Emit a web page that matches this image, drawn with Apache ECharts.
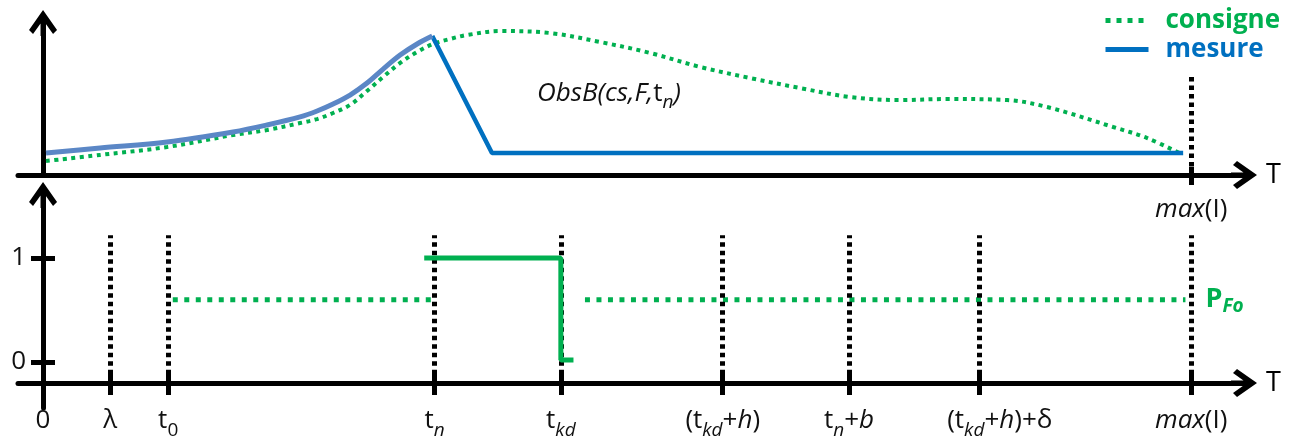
<!DOCTYPE html>
<html><head><meta charset="utf-8">
<script src="https://cdn.jsdelivr.net/npm/echarts@6/dist/echarts.min.js"></script>
<style>html,body{margin:0;padding:0;background:#fff}#c{width:1293px;height:441px}</style>
</head><body><div id="c"></div>
<script>
const FONT = 'Open Sans';
// x scale: 0 = origin, 100 = max(I)
const xMin = -2.18, xMax = 104.6;
const tickPos = [0, 5.84, 10.9, 34.1, 45.1, 59.2, 70.2, 81.5, 100];
const tickLabels = ['{z|0}', '{m|λ}', '{m|t}{s|0}', '{m|t}{si|n}', '{m|t}{si|kd}',
  '{m|(t}{si|kd}{m|+}{i|h}{m|)}', '{m|t}{si|n}{m|+}{i|b}', '{g| }{m|(t}{si|kd}{m|+}{i|h}{m|)+δ}', '{i|max}{m|(I)}'];
const topTickPos = [100];
const topTickLabels = ['{i|max}{m|(I)}'];
const yTicks = [0, 1];
const yTickLabels = ['0', '1'];

// top panel (y 0..100)
const consigne = [[0.26,9.2],[4.97,13.2],[10.8,18.4],[16.55,26.3],[19.51,29.6],[22.39,34.2],[23.87,36.8],[25.26,40.8],[26.74,46.1],[28.22,55.3],[29.62,64.5],[31.1,73.7],[32.58,80.9],[33.97,86.2],[35.45,89.5],[36.93,92.1],[39.8,94.7],[44.16,93.4],[48.52,87.5],[52.87,80.3],[57.23,71.1],[61.59,63.8],[65.94,57.2],[70.3,51.3],[74.65,49.3],[78.75,50.0],[83.97,49.3],[87.46,44.7],[93.2,31.6],[96.17,24.3],[99.3,13.2]];
const mesureCurve = [[0.26,14.5],[4.97,17.8],[10.8,21.7],[16.55,28.3],[19.51,32.9],[22.39,38.2],[23.87,42.1],[25.26,46.7],[26.74,52.6],[28.22,60.5],[29.62,69.7],[31.1,78.9],[32.58,86.2],[33.9,91.4]];
const mesureDrop = [[33.9,91.4],[39.1,14.5],[99.3,14.5]];
const topGuideTop = 67;

// bottom panel
const consigneStep = [[33.2,1],[45.1,1],[45.1,0.02],[46.2,0.02]];
const pFoA = [[11.3,0.6],[33.9,0.6]];
const pFoB = [[47.2,0.6],[99.5,0.6]];
const guideBottom = -0.2, guideTop = 1.22;

const ARROW = 'path://M14,0 L28,20 L24,24 L14,10 L4,24 L0,20 Z M11.5,6 L16.5,6 L16.5,26 L11.5,26 Z';
const GREEN = '#00b050', BLUE = '#0070c0', BLUE2 = '#5b87c6';

const rich = {
  m: {fontFamily: FONT, fontSize: 26, lineHeight: 44, color: '#111'},
  i: {fontFamily: FONT, fontSize: 26, lineHeight: 44, color: '#111', fontStyle: 'italic'},
  s: {fontFamily: FONT, fontSize: 19, lineHeight: 24, padding: [20,0,0,0], color: '#111'},
  si: {fontFamily: FONT, fontSize: 19, lineHeight: 24, padding: [20,0,0,0], color: '#111', fontStyle: 'italic'},
  z: {fontFamily: FONT, fontSize: 26, lineHeight: 34, padding: [10,0,0,0], color: '#111'},
  g: {fontFamily: FONT, fontSize: 26, lineHeight: 44, width: 42}
};
function labelFor(pos, labels) {
  return function (v) {
    for (let i = 0; i < pos.length; i++) if (Math.abs(pos[i] - v) < 1e-6) return labels[i];
    return '';
  };
}
const axisLineStyle = {color: '#000', width: 5};
const tickStyle = {color: '#000', width: 5};

function xAxisPair(grid, offset, pos, labels, tickVals, outLen, inLen, margin) {
  return [{
    gridIndex: grid, type: 'value', position: 'bottom', min: xMin, max: xMax, offset: offset,
    axisLine: {show: true, onZero: false, symbol: ['none', ARROW], symbolSize: [28, 26], lineStyle: axisLineStyle},
    axisTick: {show: true, customValues: tickVals, length: outLen, lineStyle: tickStyle},
    axisLabel: {show: true, customValues: pos, formatter: labelFor(pos, labels), rich: rich, margin: margin},
    splitLine: {show: false},
    name: 'T', nameLocation: 'end', nameGap: 22,
    nameTextStyle: {fontFamily: FONT, fontSize: 27, color: '#000', verticalAlign: 'middle'}
  }, {
    gridIndex: grid, type: 'value', position: 'bottom', min: xMin, max: xMax, offset: offset,
    axisLine: {show: false, onZero: false},
    axisTick: {show: true, inside: true, customValues: tickVals, length: inLen, lineStyle: tickStyle},
    axisLabel: {show: false}, splitLine: {show: false}
  }];
}

const option = {
  animation: false,
  backgroundColor: '#fff',
  grid: [
    {left: 18, right: 49, top: 23, bottom: 266, outerBoundsMode: 'none', containLabel: false},
    {left: 18, right: 49, top: 195, bottom: 33, outerBoundsMode: 'none', containLabel: false}
  ],
  title: {
    text: '{i|ObsB(cs,F,}{m|t}{si|n}{i|)}', left: 537, top: 74, padding: 0,
    textStyle: {rich: {
      i: {fontFamily: FONT, fontSize: 26, lineHeight: 40, fontStyle: 'italic', fontWeight: 'normal', color: '#111'},
      m: {fontFamily: FONT, fontSize: 26, lineHeight: 40, fontWeight: 'normal', color: '#111'},
      si: {fontFamily: FONT, fontSize: 19, lineHeight: 22, padding: [18,0,0,0], fontStyle: 'italic', fontWeight: 'normal', color: '#111'}
    }}
  },
  legend: {
    left: 1103, top: 6, padding: 0, orient: 'vertical', itemWidth: 43, itemHeight: 14, itemGap: 0,
    selectedMode: false,
    itemStyle: {opacity: 0},
    textStyle: {fontFamily: FONT, fontSize: 26, fontWeight: 'bold', lineHeight: 29, padding: [0,0,0,12]},
    data: [
      {name: 'consigne', textStyle: {color: GREEN}, lineStyle: {color: GREEN, width: 5, type: [5, 6]}},
      {name: 'mesure', textStyle: {color: BLUE}, lineStyle: {color: BLUE, width: 5, type: 'solid'}}
    ]
  },
  xAxis: [].concat(
    xAxisPair(0, 0, topTickPos, topTickLabels, topTickPos, 10, 8, 13),
    xAxisPair(1, -25, tickPos, tickLabels, tickPos.slice(1), 12, 11, 16)
  ),
  yAxis: [
    {gridIndex: 0, type: 'value', position: 'left', min: 0, max: 100,
      axisLine: {show: true, onZero: true, symbol: ['none', ARROW], symbolSize: [28, 26], lineStyle: axisLineStyle},
      axisTick: {show: false}, axisLabel: {show: false}, splitLine: {show: false}},
    {gridIndex: 1, type: 'value', position: 'left', min: -0.442, max: 1.606,
      axisLine: {show: true, onZero: true, symbol: ['none', ARROW], symbolSize: [28, 26], lineStyle: axisLineStyle},
      axisTick: {show: true, customValues: yTicks, length: 12, lineStyle: tickStyle},
      axisLabel: {show: true, customValues: yTicks, formatter: labelFor(yTicks, yTickLabels), margin: -8,
        fontFamily: FONT, fontSize: 26, color: '#111'},
      splitLine: {show: false}},
    {gridIndex: 1, type: 'value', position: 'left', min: -0.442, max: 1.606,
      axisLine: {show: false, onZero: true},
      axisTick: {show: true, inside: true, customValues: yTicks, length: 12, lineStyle: tickStyle},
      axisLabel: {show: false}, splitLine: {show: false}}
  ],
  series: [
    {name: 'mesure', type: 'line', xAxisIndex: 0, yAxisIndex: 0, data: mesureDrop, symbol: 'none',
      color: BLUE, lineStyle: {color: BLUE, width: 4.5}, z: 4, silent: true},
    {name: 'mesure', type: 'line', xAxisIndex: 0, yAxisIndex: 0, data: mesureCurve, symbol: 'none',
      smooth: 0.35,
      color: BLUE2, lineStyle: {color: BLUE2, width: 5}, z: 4, silent: true},
    {name: 'consigne', type: 'line', xAxisIndex: 0, yAxisIndex: 0, data: consigne, symbol: 'none',
      smooth: 0.35,
      color: GREEN, lineStyle: {color: GREEN, width: 4, type: [4, 4.5]}, z: 3, silent: true,
      markLine: {silent: true, symbol: ['none', 'none'], label: {show: false},
        lineStyle: {color: '#000', width: 5, type: [4.5, 4]},
        emphasis: {disabled: true},
        data: topTickPos.map(x => [{coord: [x, 0]}, {coord: [x, topGuideTop]}])}},
    {name: 'pfoA', type: 'line', xAxisIndex: 2, yAxisIndex: 1, data: pFoA, symbol: 'none',
      color: GREEN, lineStyle: {color: GREEN, width: 5, type: [5, 6.5]}, z: 3, silent: true,
      markLine: {silent: true, symbol: ['none', 'none'], label: {show: false},
        lineStyle: {color: '#000', width: 5, type: [4.5, 4]},
        emphasis: {disabled: true},
        data: tickPos.slice(1).map(x => [{coord: [x, guideBottom]}, {coord: [x, guideTop]}])}},
    {name: 'pfoB', type: 'line', xAxisIndex: 2, yAxisIndex: 1, data: pFoB, symbol: 'none',
      color: GREEN, lineStyle: {color: GREEN, width: 5, type: [5, 6.5]}, z: 3, silent: true,
      endLabel: {show: true, distance: 20, formatter: '{p|P}{f|Fo}', rich: {
        p: {fontFamily: FONT, fontSize: 27, fontWeight: 'bold', color: GREEN, lineHeight: 36},
        f: {fontFamily: FONT, fontSize: 19, fontWeight: 'bold', fontStyle: 'italic', color: GREEN, lineHeight: 22, padding: [14,0,0,0]}
      }}},
    {name: 'step', type: 'line', xAxisIndex: 2, yAxisIndex: 1, data: consigneStep, symbol: 'none',
      color: GREEN, lineStyle: {color: GREEN, width: 5}, z: 5, silent: true}
  ]
};
const chart = echarts.init(document.getElementById('c'));
chart.setOption(option);
</script></body></html>
